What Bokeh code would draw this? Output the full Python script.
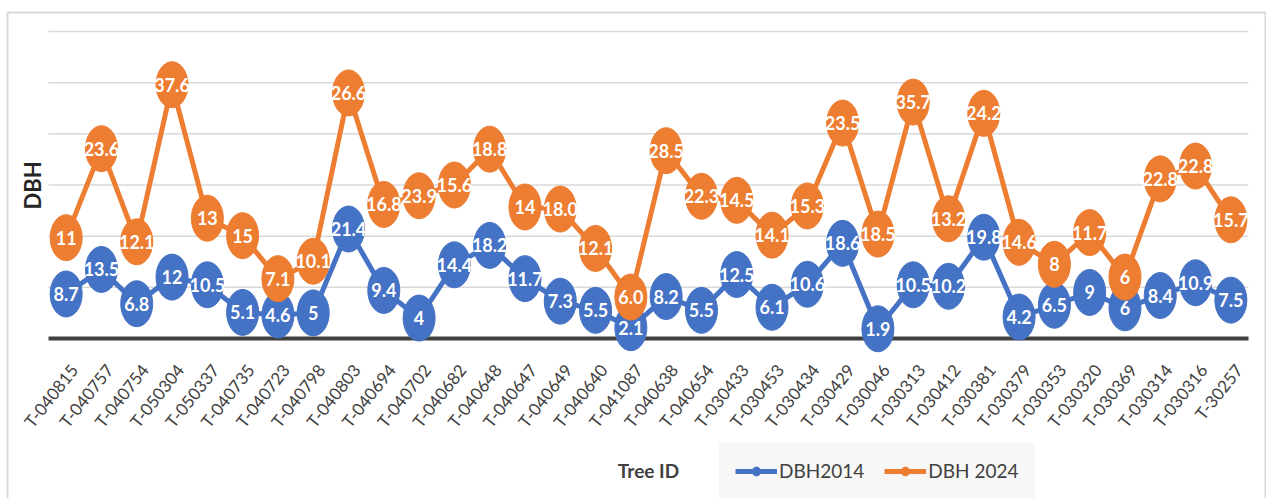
from bokeh.plotting import figure
from bokeh.models import (Range1d, Label, Legend, LegendItem, ColumnDataSource,
                          BoxAnnotation)
from bokeh.core.properties import value
from bokeh.embed import file_html
from bokeh.resources import INLINE
import math

tree_ids = ["T-040815", "T-040757", "T-040754", "T-050304", "T-050337", "T-040735",
            "T-040723", "T-040798", "T-040803", "T-040694", "T-040702", "T-040682",
            "T-040648", "T-040647", "T-040649", "T-040640", "T-041087", "T-040638",
            "T-040654", "T-030433", "T-030453", "T-030434", "T-030429", "T-030046",
            "T-030313", "T-030412", "T-030381", "T-030379", "T-030353", "T-030320",
            "T-030369", "T-030314", "T-030316", "T-30257"]
dbh2014 = ["8.7", "13.5", "6.8", "12", "10.5", "5.1", "4.6", "5", "21.4", "9.4", "4",
           "14.4", "18.2", "11.7", "7.3", "5.5", "2.1", "8.2", "5.5", "12.5", "6.1",
           "10.6", "18.6", "1.9", "10.5", "10.2", "19.8", "4.2", "6.5", "9", "6", "8.4",
           "10.9", "7.5"]
dbh2024 = ["11", "23.6", "12.1", "37.6", "13", "15", "7.1", "10.1", "26.6", "16.8",
           "23.9", "15.6", "18.8", "14", "18.0", "12.1", "6.0", "28.5", "22.3", "14.5",
           "14.1", "15.3", "23.5", "18.5", "35.7", "13.2", "24.2", "14.6", "8", "11.7",
           "6", "22.8", "22.8", "15.7"]
grid_values = [10, 20, 30, 40, 50, 60]

BLUE = "#4472C4"
ORANGE = "#ED7D31"
FONT = "Lato"

W, H = 1266, 498
# plot-area geometry (pixels)
PL, PR, PB, PT = 48, 1248, 338, 31
n = len(tree_ids)
YMAX = grid_values[-1]
sx = (PR - PL) / n
sy = (PB - PT) / YMAX
x_range = Range1d(-PL / sx, n + (W - PR) / sx)
y_range = Range1d(-(H - PB) / sy, YMAX + PT / sy)


def px_x(px):
    return (px - PL) / sx


def px_y(py):
    return (PB - py) / sy


xs = [i + 0.5 for i in range(n)]
v14 = [float(v) for v in dbh2014]
v24 = [float(v) for v in dbh2024]
stack24 = [a + b for a, b in zip(v14, v24)]  # stacked line chart

src14 = ColumnDataSource(dict(x=xs, y=v14, label=dbh2014))
src24 = ColumnDataSource(dict(x=xs, y=stack24, label=dbh2024))
src_cat = ColumnDataSource(dict(x=xs, y=[0] * n, label=tree_ids))

p = figure(width=W, height=H, output_backend="svg", toolbar_location=None,
           x_range=x_range, y_range=y_range, x_axis_type=None, y_axis_type=None,
           min_border=0)
p.outline_line_color = None
p.background_fill_color = "white"
p.border_fill_color = "white"

# horizontal gridlines and baseline
p.segment(x0=[0] * len(grid_values), x1=[n] * len(grid_values), y0=grid_values,
          y1=grid_values, line_color="#d9d9d9", line_width=1.5)
p.segment(x0=[0], x1=[n], y0=[0], y1=[0], line_color="#404040", line_width=4)

# category labels (rotated)
p.text("x", "y", text="label", source=src_cat, angle=0.9, text_align="right",
       text_baseline="middle", x_offset=8, y_offset=28, text_font=value(FONT),
       text_font_size="17px", text_color="#404040")

# y title
p.text(x=[px_x(32)], y=[px_y(185)], text=["DBH"], angle=math.pi / 2,
       text_align="center", text_baseline="middle", text_font=value(FONT),
       text_font_style="bold", text_font_size="22px", text_color="#262626")

# series 2014
line14 = p.line("x", "y", source=src14, line_color=BLUE, line_width=5)
p.ellipse("x", "y", width=32, height=46, width_units="screen", height_units="screen",
          source=src14, fill_color=BLUE, line_color=BLUE)
p.text("x", "y", text="label", source=src14, text_color="white",
       text_font=value(FONT), text_font_style="bold", text_font_size="18px",
       text_align="center", text_baseline="middle")

# series 2024 (stacked)
line24 = p.line("x", "y", source=src24, line_color=ORANGE, line_width=5)
p.ellipse("x", "y", width=32, height=46, width_units="screen", height_units="screen",
          source=src24, fill_color=ORANGE, line_color=ORANGE)
p.text("x", "y", text="label", source=src24, text_color="white",
       text_font=value(FONT), text_font_style="bold", text_font_size="18px",
       text_align="center", text_baseline="middle")

# x title
p.add_layout(Label(x=n / 2, y=px_y(470), text="Tree ID", text_font=FONT,
                   text_font_style="bold", text_font_size="19px",
                   text_color="#404040", text_align="center",
                   text_baseline="middle"))

# legend marker proxies (not drawn: NaN position)
nan = float("nan")
m14 = p.scatter([nan], [nan], marker="circle", size=10, fill_color=BLUE, line_color=BLUE)
m24 = p.scatter([nan], [nan], marker="circle", size=10, fill_color=ORANGE,
                line_color=ORANGE)
legend = Legend(items=[LegendItem(label="DBH2014", renderers=[line14, m14]),
                       LegendItem(label="DBH 2024", renderers=[line24, m24])],
                orientation="horizontal", location=(719, 0),
                glyph_width=42, glyph_height=22, label_height=22,
                label_standoff=2, spacing=20, padding=16, margin=0,
                background_fill_color="#f7f7f7", background_fill_alpha=1.0,
                border_line_alpha=0,
                label_text_font=FONT, label_text_font_size="19px",
                label_text_color="#404040")
p.add_layout(legend, "center")

# outer chart border
p.add_layout(BoxAnnotation(left=px_x(7), right=px_x(1265), top=px_y(12),
                           bottom=px_y(530), fill_alpha=0, line_color="#808080",
                           line_width=2))

open("out.html", "w").write(file_html(p, INLINE))
